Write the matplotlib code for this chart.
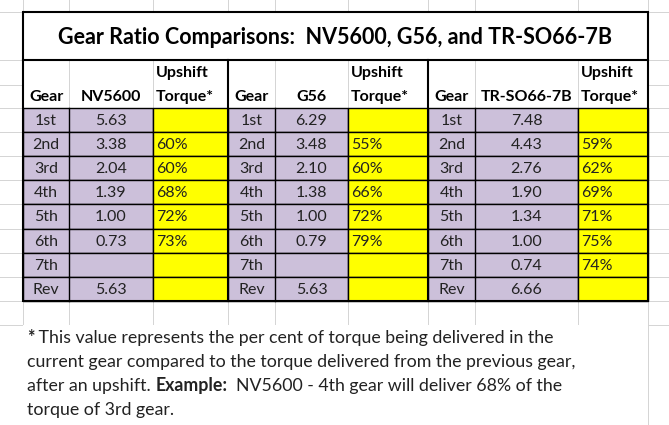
import matplotlib
matplotlib.use("Agg")
import matplotlib.pyplot as plt
from matplotlib.patches import Rectangle

title = "Gear Ratio Comparisons:  NV5600, G56, and TR-SO66-7B"
gears = ["1st", "2nd", "3rd", "4th", "5th", "6th", "7th", "Rev"]
nv5600 = ["5.63", "3.38", "2.04", "1.39", "1.00", "0.73", "", "5.63"]
nv5600_up = ["", "60%", "60%", "68%", "72%", "73%", "", ""]
g56 = ["6.29", "3.48", "2.10", "1.38", "1.00", "0.79", "", "5.63"]
g56_up = ["", "55%", "60%", "66%", "72%", "79%", "", ""]
tr = ["7.48", "4.43", "2.76", "1.90", "1.34", "1.00", "0.74", "6.66"]
tr_up = ["", "59%", "62%", "69%", "71%", "75%", "74%", ""]
models = ["NV5600", "G56", "TR-SO66-7B"]

W, H = 669, 425
fig = plt.figure(figsize=(W/100, H/100), dpi=100)
ax = fig.add_axes([0, 0, 1, 1])
ax.set_xlim(0, W); ax.set_ylim(H, 0); ax.axis("off")
FONT = "Lato"
PURPLE = "#CCC0DA"; YEL = "#FFFF00"; GRID = "#D4D4D4"
FS = 11.5

cols = [23, 69, 153, 228, 275, 348, 428, 475, 578, 648]
rows_top = 108; rh = 24.1
nrows = len(gears)
bottom = rows_top + rh*nrows

for x in cols + [669]:
    ax.plot([x, x], [0, H], color=GRID, lw=0.7, zorder=0)
for i in range(nrows + 2):
    y = rows_top + rh*i
    ax.plot([0, W], [y, y], color=GRID, lw=0.7, zorder=0)
for y in [12, 60, 85]:
    ax.plot([0, W], [y, y], color=GRID, lw=0.7, zorder=0)
ax.add_patch(Rectangle((23, 12), 625, 96, facecolor="white", zorder=1))
ax.add_patch(Rectangle((23, bottom+rh), 625, H-bottom-rh, facecolor="white", zorder=1))
for x in cols[1:]:
    if x not in (228, 428):
        ax.plot([x, x], [60, 108], color=GRID, lw=0.7, zorder=1.5)

groups = [(nv5600, nv5600_up), (g56, g56_up), (tr, tr_up)]
for g, (vals, ups) in enumerate(groups):
    c0 = cols[3*g]; c1 = cols[3*g+1]; c2 = cols[3*g+2]; c3 = cols[3*g+3]
    for i in range(nrows):
        y = rows_top + rh*i
        ax.add_patch(Rectangle((c0, y), c2-c0, rh, facecolor=PURPLE, edgecolor="black", lw=1, zorder=2))
        ax.plot([c1, c1], [y, y+rh], color="black", lw=1, zorder=3)
        ax.add_patch(Rectangle((c2, y), c3-c2, rh, facecolor=YEL, edgecolor="black", lw=1, zorder=2))
        ax.text((c0+c1)/2, y+rh/2+1, gears[i], ha="center", va="center", fontsize=FS, family=FONT, color="#222", zorder=4)
        ax.text((c1+c2)/2, y+rh/2+1, vals[i], ha="center", va="center", fontsize=FS, family=FONT, color="#222", zorder=4)
        ax.text(c2+3, y+rh/2+1, ups[i], ha="left", va="center", fontsize=FS, family=FONT, color="#222", zorder=4)
    ax.text((c0+c1)/2, 97, "Gear", ha="center", va="center", fontsize=FS, family=FONT, weight="bold", zorder=4)
    ax.text((c1+c2)/2, 97, models[g], ha="center", va="center", fontsize=FS, family=FONT, weight="bold", zorder=4)
    ax.text(c2+3, 73, "Upshift", ha="left", va="center", fontsize=FS, family=FONT, weight="bold", zorder=4)
    ax.text(c2+3, 97, "Torque*", ha="left", va="center", fontsize=FS, family=FONT, weight="bold", zorder=4)

ax.add_patch(Rectangle((23, 12), 625, bottom-12, fill=False, edgecolor="black", lw=1.5, zorder=5))
ax.plot([23, 648], [60, 60], color="black", lw=1.5, zorder=5)
for x in (228, 428):
    ax.plot([x, x], [60, bottom], color="black", lw=1.5, zorder=5)
ax.text(335.5, 37, title, ha="center", va="center", fontsize=15.5, family=FONT, weight="bold", zorder=5)

# footnote, segments placed consecutively
FN = 12.8
fig.canvas.draw()
r = fig.canvas.get_renderer()
inv = ax.transData.inverted()
def seg_line(y, parts):
    x = 27
    for s, bold in parts:
        t = ax.text(x, y, s, ha="left", va="center", fontsize=FN, family=FONT,
                    weight="bold" if bold else "normal", color="#222", zorder=5)
        bb = t.get_window_extent(renderer=r)
        x = inv.transform((bb.x1, 0))[0]
seg_line(338, [("*", True), (" This value represents the per cent of torque being delivered in the", False)])
seg_line(362, [("current gear compared to the torque delivered from the previous gear,", False)])
seg_line(386, [("after an upshift. ", False), ("Example:", True), ("  NV5600 - 4th gear will deliver 68% of the", False)])
seg_line(410, [("torque of 3rd gear.", False)])

fig.savefig("out.png", dpi=100)
